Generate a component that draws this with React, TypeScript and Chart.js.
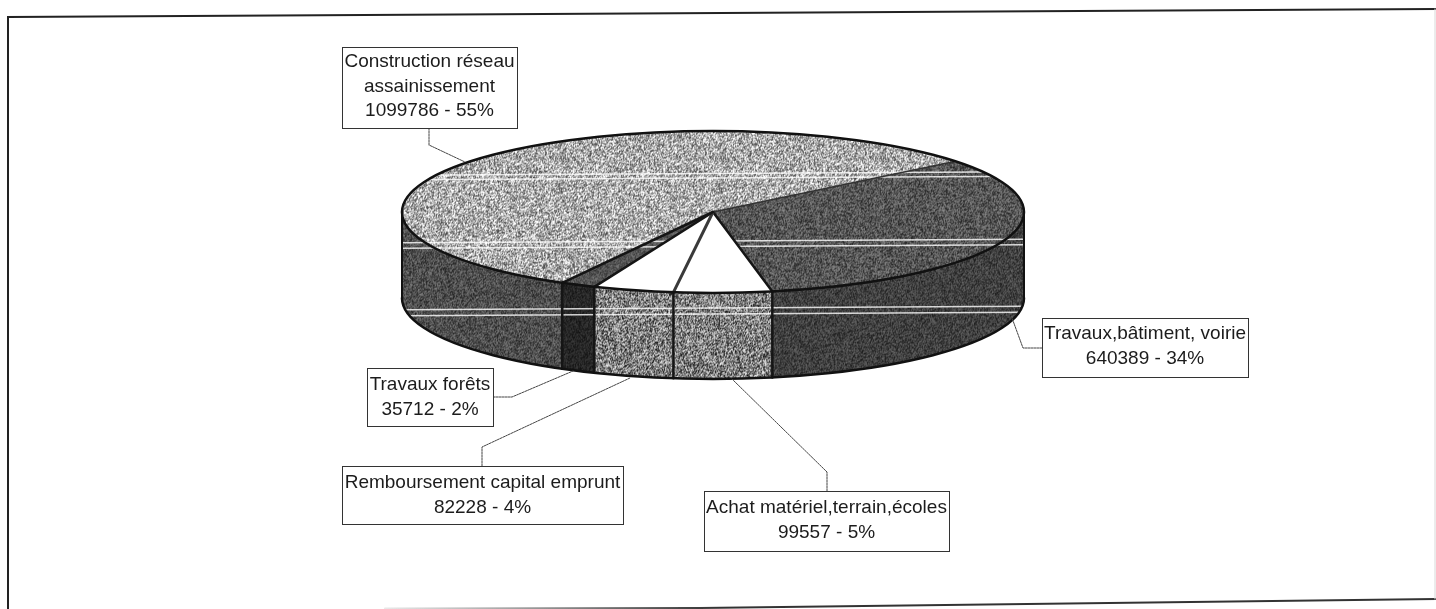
import React, { useEffect, useRef } from "react";
import { Chart, registerables } from "chart.js";

Chart.register(...registerables);

// ---- data ----
const categoryLines: string[][] = [
  ["Construction réseau", "assainissement"],
  ["Travaux,bâtiment, voirie"],
  ["Achat matériel,terrain,écoles"],
  ["Remboursement capital emprunt"],
  ["Travaux forêts"],
];
const amounts: number[] = [1099786, 640389, 99557, 82228, 35712];
const percents: number[] = [55, 34, 5, 4, 2];

// ---- layout and style ----
const W = 1436;
const H = 609;
const CX = 713;
const CY = 212;
const RX = 311;
const RY = 81;
const DEPTH = 86;
const ROTATION = 209;

const boxes = [
  { l: 342, r: 517, t: 47, b: 128, first: 62, leader: [[429, 128], [429, 145], [465, 162]] },
  { l: 1042, r: 1248, t: 318, b: 377, first: 334, leader: [[1042, 348], [1023, 348], [1012, 318]] },
  { l: 704, r: 949, t: 491, b: 551, first: 508, leader: [[827, 491], [827, 472], [732, 379]] },
  { l: 342, r: 623, t: 466, b: 524, first: 483, leader: [[482, 466], [482, 447], [630, 378]] },
  { l: 367, r: 493, t: 368, b: 426, first: 385, leader: [[493, 397], [512, 397], [573, 371]] },
];
const LINE_H = 24.5;
const scanPairs = [[173.5, 178], [241, 246.5], [308, 314]];
const SCAN_TILT = -0.006;

// grain: [mean grey, spread]; null means a plain white face
const topGrain: ([number, number] | null)[] = [[172, 72], [86, 36], null, null, [84, 24]];
const sideGrain: [number, number][] = [[78, 30], [64, 24], [128, 72], [128, 72], [38, 14]];

function makeGrain(mean: number, spread: number, seed: number): HTMLCanvasElement {
  const size = 160;
  const c = document.createElement("canvas");
  c.width = size;
  c.height = size;
  const g = c.getContext("2d")!;
  const img = g.createImageData(size, size);
  let s = seed;
  const next = () => {
    s = (s * 1664525 + 1013904223) >>> 0;
    return s / 4294967296;
  };
  const cells = new Float32Array(size * size);
  for (let i = 0; i < cells.length; i++) cells[i] = next() - 0.5;
  for (let y = 0; y < size; y++) {
    for (let x = 0; x < size; x++) {
      const a = cells[y * size + x];
      const b = cells[y * size + ((x + 1) % size)];
      const d = cells[((y + 1) % size) * size + x];
      const v = Math.max(0, Math.min(255, mean + spread * 2 * (a * 0.5 + b * 0.12 + d * 0.38) * 1.5));
      const p = (y * size + x) * 4;
      img.data[p] = img.data[p + 1] = img.data[p + 2] = v;
      img.data[p + 3] = 255;
    }
  }
  g.putImageData(img, 0, 0);
  return c;
}

export default function App() {
  const ref = useRef<HTMLCanvasElement>(null);

  useEffect(() => {
    const canvas = ref.current!;
    const c2d = canvas.getContext("2d")!;
    const topFills: (CanvasPattern | string)[] = topGrain.map((t, i) =>
      t ? c2d.createPattern(makeGrain(t[0], t[1], 17 + i * 31), "repeat")! : "#ffffff"
    );
    const sideFills = sideGrain.map((t, i) =>
      c2d.createPattern(makeGrain(t[0], t[1], 211 + i * 57), "repeat")!
    );

    const pt = (a: number, dy = 0): [number, number] => [
      CX + RX * Math.cos(a),
      CY + dy + RY * Math.sin(a),
    ];

    const pie3d = {
      id: "pie3d",
      beforeDatasetsDraw(chart: any) {
        const ctx: CanvasRenderingContext2D = chart.ctx;
        const arcs = chart.getDatasetMeta(0).data;
        // front wall of each slice
        arcs.forEach((arc: any, i: number) => {
          for (const k of [0, 2 * Math.PI]) {
            const a0 = Math.max(arc.startAngle, k);
            const a1 = Math.min(arc.endAngle, k + Math.PI);
            if (a0 >= a1) continue;
            ctx.beginPath();
            ctx.ellipse(CX, CY, RX, RY, 0, a0, a1);
            ctx.ellipse(CX, CY + DEPTH, RX, RY, 0, a1, a0, true);
            ctx.closePath();
            ctx.fillStyle = sideFills[i];
            ctx.fill();
          }
        });
        // squash the library's round pie into the top face
        const R = arcs[0].outerRadius;
        const sx = RX / R;
        const sy = RY / R;
        topFills.forEach((f) => {
          if (typeof f !== "string") f.setTransform(new DOMMatrix().scale(1 / sx, 1 / sy));
        });
        ctx.save();
        ctx.translate(CX, CY);
        ctx.scale(sx, sy);
        ctx.translate(-arcs[0].x, -arcs[0].y);
      },
      afterDatasetsDraw(chart: any) {
        const ctx: CanvasRenderingContext2D = chart.ctx;
        ctx.restore();
        const arcs = chart.getDatasetMeta(0).data;

        // scan lines across the silhouette
        ctx.save();
        ctx.beginPath();
        ctx.ellipse(CX, CY, RX, RY, 0, Math.PI, 2 * Math.PI);
        ctx.ellipse(CX, CY + DEPTH, RX, RY, 0, 0, Math.PI);
        ctx.closePath();
        ctx.clip();
        ctx.strokeStyle = "rgba(255,255,255,0.8)";
        ctx.lineWidth = 1.5;
        scanPairs.forEach((pair) =>
          pair.forEach((y) => {
            ctx.beginPath();
            ctx.moveTo(CX - RX, y - RX * SCAN_TILT);
            ctx.lineTo(CX + RX, y + RX * SCAN_TILT);
            ctx.stroke();
          })
        );
        ctx.restore();

        // slice edges
        ctx.lineCap = "round";
        arcs.forEach((arc: any, i: number) => {
          const p = pt(arc.startAngle);
          ctx.lineWidth = i === 1 ? 1.5 : i === 3 ? 3 : 2.5;
          ctx.strokeStyle = i === 1 ? "#333333" : i === 3 ? "#3a3a3a" : "#151515";
          ctx.beginPath();
          ctx.moveTo(CX, CY);
          ctx.lineTo(p[0], p[1]);
          ctx.stroke();
          if (Math.sin(arc.startAngle) > 0) {
            ctx.lineWidth = 2.5;
            ctx.strokeStyle = "#151515";
            ctx.beginPath();
            ctx.moveTo(p[0], p[1]);
            ctx.lineTo(p[0], p[1] + DEPTH);
            ctx.stroke();
          }
        });
        // outlines
        ctx.strokeStyle = "#111111";
        ctx.lineWidth = 2.5;
        ctx.beginPath();
        ctx.ellipse(CX, CY, RX, RY, 0, 0, 2 * Math.PI);
        ctx.stroke();
        ctx.beginPath();
        ctx.ellipse(CX, CY + DEPTH, RX, RY, 0, 0, Math.PI);
        ctx.stroke();
        ctx.lineWidth = 2;
        ctx.beginPath();
        ctx.moveTo(CX - RX, CY);
        ctx.lineTo(CX - RX, CY + DEPTH);
        ctx.moveTo(CX + RX, CY);
        ctx.lineTo(CX + RX, CY + DEPTH);
        ctx.stroke();
      },
      afterDraw(chart: any) {
        const ctx: CanvasRenderingContext2D = chart.ctx;
        // scanned page frame
        ctx.save();
        ctx.strokeStyle = "#222222";
        ctx.lineWidth = 2;
        ctx.beginPath();
        ctx.moveTo(8, H);
        ctx.lineTo(8, 17);
        ctx.lineTo(W, 9);
        ctx.stroke();
        const fade = ctx.createLinearGradient(385, 0, 720, 0);
        fade.addColorStop(0, "#e8e8e8");
        fade.addColorStop(1, "#333333");
        ctx.strokeStyle = fade;
        ctx.beginPath();
        ctx.moveTo(385, 608.5);
        ctx.lineTo(700, 608);
        ctx.lineTo(W, 599);
        ctx.stroke();
        ctx.strokeStyle = "#d8d8d8";
        ctx.lineWidth = 1;
        ctx.beginPath();
        ctx.moveTo(1435, 9);
        ctx.lineTo(1435, 599);
        ctx.stroke();

        // data labels
        boxes.forEach((b, i) => {
          ctx.setLineDash([2, 1]);
          ctx.strokeStyle = "#444444";
          ctx.lineWidth = 1;
          ctx.beginPath();
          b.leader.forEach(([x, y], j) => (j ? ctx.lineTo(x, y) : ctx.moveTo(x, y)));
          ctx.stroke();
          ctx.setLineDash([]);
          ctx.fillStyle = "#ffffff";
          ctx.fillRect(b.l, b.t, b.r - b.l, b.b - b.t);
          ctx.strokeStyle = "#333333";
          ctx.strokeRect(b.l + 0.5, b.t + 0.5, b.r - b.l, b.b - b.t);
          ctx.fillStyle = "#1c1c1c";
          ctx.font = '19px "Liberation Sans", Arial, sans-serif';
          ctx.textAlign = "center";
          ctx.textBaseline = "middle";
          const lines = [...categoryLines[i], `${amounts[i]} - ${percents[i]}%`];
          lines.forEach((t, j) => ctx.fillText(t, (b.l + b.r) / 2, b.first + j * LINE_H));
        });
        ctx.restore();
      },
    };

    const chart = new Chart(canvas, {
      type: "pie",
      data: {
        labels: categoryLines.map((l) => l.join(" ")),
        datasets: [
          {
            data: amounts,
            backgroundColor: topFills as any,
            borderWidth: 0,
            clip: false as any,
          },
        ],
      },
      options: {
        responsive: false,
        animation: false,
        events: [],
        rotation: ROTATION,
        layout: { padding: { bottom: H - 2 * CY, right: W - 2 * CX } },
        plugins: { legend: { display: false }, tooltip: { enabled: false } },
      },
      plugins: [pie3d as any],
    });
    return () => chart.destroy();
  }, []);

  return (
    <div style={{ position: "fixed", inset: 0, overflow: "hidden", background: "#fff" }}>
      <canvas ref={ref} width={W} height={H} style={{ display: "block" }} />
    </div>
  );
}
